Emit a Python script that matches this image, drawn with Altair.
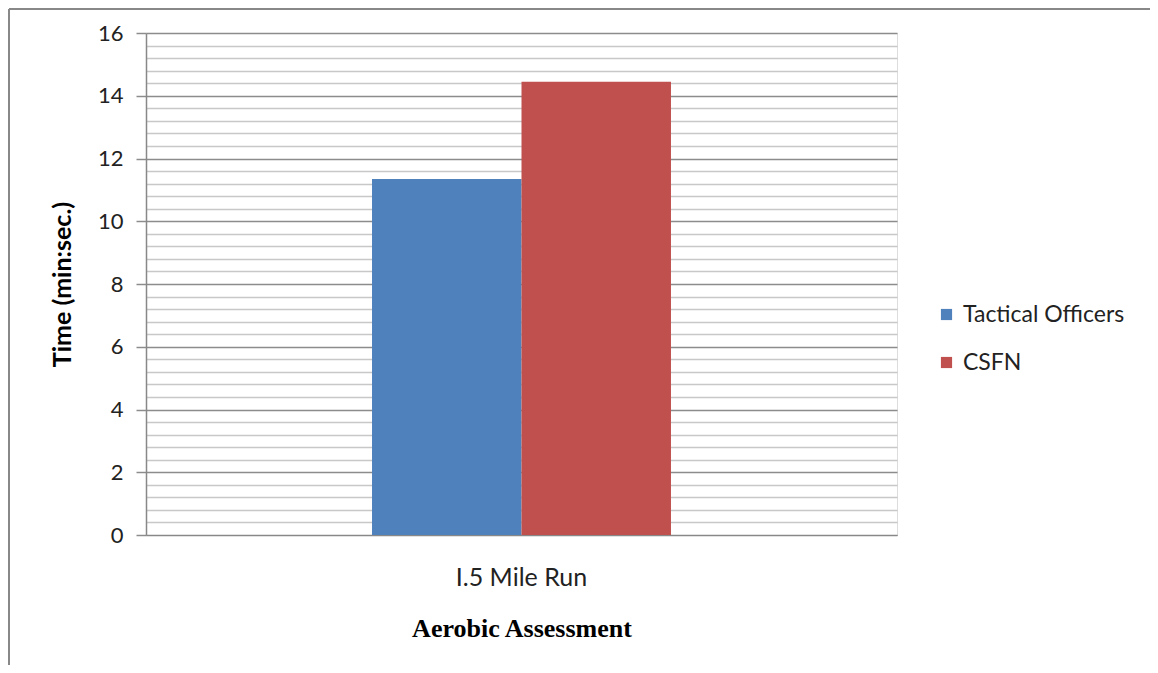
import altair as alt
import pandas as pd

categories = ["I.5 Mile Run"]
series = ["Tactical Officers", "CSFN"]
values = [11.35, 14.45]
colors = ["#4F81BD", "#C0504D"]
minor_ticks = [round(i * 0.4, 1) for i in range(41)]

df = pd.DataFrame({
    "cat": [categories[0]] * len(series),
    "series": series,
    "value": values,
})

W, H = 751, 502
FONT = "Lato"

bars = alt.Chart(df).mark_bar().encode(
    x=alt.X("cat:N", title="Aerobic Assessment",
            scale=alt.Scale(paddingInner=0, paddingOuter=0.756),
            axis=alt.Axis(labelAngle=0, ticks=False, domain=True, domainColor="#888",
                          labelFont=FONT, labelFontSize=25, labelColor="#222", labelPadding=30,
                          titleFont="Liberation Serif", titleFontSize=26, titleFontWeight="bold",
                          titleColor="#000", titlePadding=25)),
    xOffset=alt.XOffset("series:N", sort=series),
    y=alt.Y("value:Q", title="Time (min:sec.)",
            scale=alt.Scale(domain=[0, 16], nice=False),
            axis=alt.Axis(values=minor_ticks,
                          labelExpr="abs(datum.value % 2) < 0.01 ? format(datum.value, 'd') : ''",
                          grid=True,
                          gridColor=alt.condition("abs(datum.value % 2) < 0.01", alt.value("#8c8c8c"), alt.value("#c8c8c8")),
                          gridWidth=1.6,
                          tickColor=alt.condition("abs(datum.value % 2) < 0.01", alt.value("#8c8c8c"), alt.value("transparent")),
                          tickSize=10, tickWidth=1.5,
                          domainColor="#888", domainWidth=1.5,
                          labelFont=FONT, labelFontSize=22, labelColor="#222", labelPadding=13,
                          titleFont=FONT, titleFontSize=25, titleFontWeight="bold", titleColor="#000",
                          titlePadding=22)),
    color=alt.Color("series:N", sort=series,
                    scale=alt.Scale(domain=series, range=colors),
                    legend=alt.Legend(title=None, orient="none", legendX=789, legendY=270,
                                      symbolType="square", symbolSize=125, symbolStrokeWidth=0,
                                      labelFont=FONT, labelFontSize=23, labelColor="#222",
                                      labelLimit=400, rowPadding=24, labelOffset=5)),
)

frame_left = alt.Chart(df).mark_rule(color="#888", strokeWidth=2).encode(
    x=alt.value(-137), y=alt.value(-24), y2=alt.value(H + 200))
frame_top = alt.Chart(df).mark_rule(color="#888", strokeWidth=2).encode(
    x=alt.value(-137), x2=alt.value(1100), y=alt.value(-24))

chart = alt.layer(bars, frame_left, frame_top).properties(
    width=W, height=H,
    autosize=alt.AutoSizeParams(type="none"),
    padding={"left": 138, "top": 25, "right": 253, "bottom": 130},
).configure_view(stroke=None).configure(background="white")

chart.save("out.html", embed_options={"renderer": "svg", "actions": False})
